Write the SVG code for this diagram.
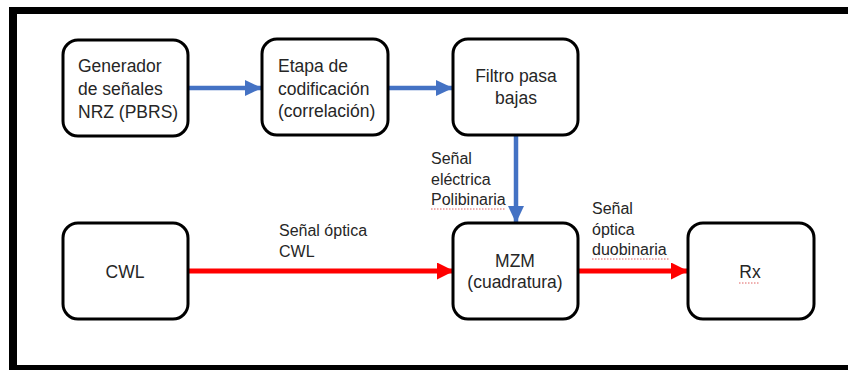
<svg xmlns="http://www.w3.org/2000/svg" width="848" height="370" viewBox="0 0 848 370">
<style>
.box{fill:#fff;stroke:#000;stroke-width:3}
.t{font-family:"Liberation Sans",Arial,sans-serif;font-size:17.5px;fill:#262626}
.l{font-family:"Liberation Sans",Arial,sans-serif;font-size:16px;fill:#262626}
.blue{stroke:#4472C4;stroke-width:4.5;fill:none}
.red{stroke:#FF0000;stroke-width:5;fill:none}
.sp{stroke:#E06060;stroke-width:1;fill:none;stroke-dasharray:1.5 1.5}
</style>
<defs>
<marker id="ab" markerUnits="userSpaceOnUse" markerWidth="18" markerHeight="16" refX="17" refY="8" orient="auto"><path d="M0,0 L17,8 L0,16 Z" fill="#4472C4"/></marker>
<marker id="ar" markerUnits="userSpaceOnUse" markerWidth="18" markerHeight="18" refX="17" refY="8.5" orient="auto"><path d="M0,0 L17,8.5 L0,17 Z" fill="#FF0000"/></marker>
</defs>
<rect width="848" height="370" fill="#fff"/>
<g id="frame" fill="#000">
<rect x="9" y="7" width="839" height="7"/>
<rect x="9" y="7" width="8" height="363"/>
<rect x="9" y="365" width="839" height="5"/>
</g>
<g id="connectors">
<line class="blue" x1="188" y1="88" x2="262" y2="88" marker-end="url(#ab)"/>
<line class="blue" x1="388" y1="88" x2="453" y2="88" marker-end="url(#ab)"/>
<line class="blue" x1="516" y1="136" x2="516" y2="223" marker-end="url(#ab)"/>
<line class="red" x1="188" y1="271" x2="454" y2="271" marker-end="url(#ar)"/>
<line class="red" x1="578" y1="271" x2="688" y2="271" marker-end="url(#ar)"/>
<text class="l" x="431" y="164">Señal</text>
<text class="l" x="431" y="185">eléctrica</text>
<text class="l" x="431" y="205">Polibinaria</text>
<path class="sp" d="M431,209 L506,209"/>
<text class="l" x="279" y="236">Señal óptica</text>
<text class="l" x="279" y="257">CWL</text>
<text class="l" x="592" y="214">Señal</text>
<text class="l" x="592" y="235">óptica</text>
<text class="l" x="592" y="255">duobinaria</text>
<path class="sp" d="M592,259 L669,259"/>
</g>
<g id="gen">
<rect class="box" x="63" y="40" width="125" height="96" rx="15"/>
<text class="t" x="78" y="72">Generador</text>
<text class="t" x="78" y="95">de señales</text>
<text class="t" x="78" y="118">NRZ (PBRS)</text>
</g>
<g id="etapa">
<rect class="box" x="262" y="39" width="126" height="96" rx="15"/>
<text class="t" x="278" y="72">Etapa de</text>
<text class="t" x="278" y="95">codificación</text>
<text class="t" x="278" y="117">(correlación)</text>
</g>
<g id="filtro">
<rect class="box" x="453" y="39" width="125" height="96" rx="15"/>
<text class="t" x="516" y="82" text-anchor="middle">Filtro pasa</text>
<text class="t" x="516" y="104" text-anchor="middle">bajas</text>
</g>
<g id="cwl">
<rect class="box" x="63" y="223" width="125" height="96" rx="15"/>
<text class="t" x="125" y="278" text-anchor="middle">CWL</text>
</g>
<g id="mzm">
<rect class="box" x="453" y="223" width="125" height="96" rx="15"/>
<text class="t" x="515" y="267" text-anchor="middle">MZM</text>
<text class="t" x="515" y="288" text-anchor="middle">(cuadratura)</text>
</g>
<g id="rx">
<rect class="box" x="688" y="223" width="126" height="96" rx="15"/>
<text class="t" x="750" y="278" text-anchor="middle">Rx</text>
<path class="sp" d="M739,283 L760,283"/>
</g>
</svg>
